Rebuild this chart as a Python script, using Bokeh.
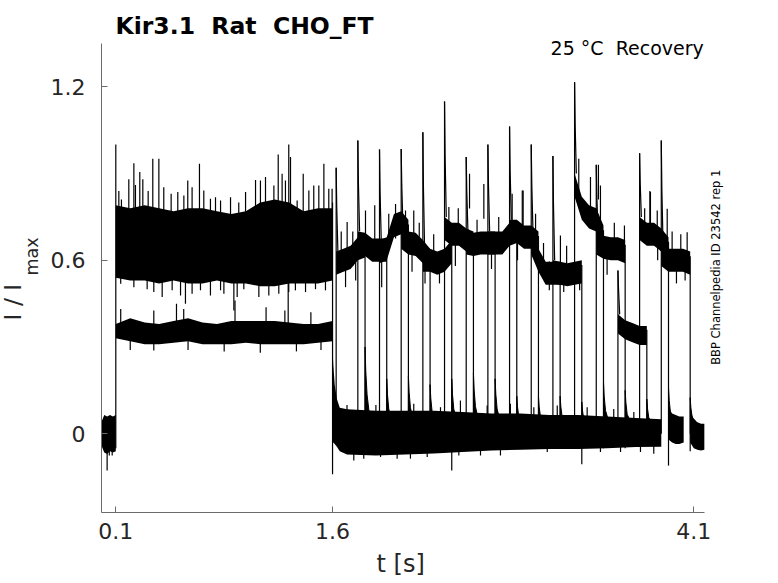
import math
from bokeh.plotting import figure
from bokeh.models import Range1d, FixedTicker, Label, Title, ColumnDataSource
from bokeh.embed import file_html
from bokeh.resources import INLINE

# ---------------- axes ----------------
x_ticks = [0.1, 1.6, 4.1]
x_tick_labels = ["0.1", "1.6", "4.1"]
y_ticks = [0.0, 0.6, 1.2]
y_tick_labels = ["0", "0.6", "1.2"]

# ---------------- baseline before the step (0 - 0.1 s) ----------------
pre_t = [0.0, 0.02, 0.04, 0.06, 0.08, 0.1]
pre_hi = [0.04, 0.065, 0.06, 0.065, 0.06, 0.065]
pre_lo = [-0.04, -0.065, -0.07, -0.06, -0.065, -0.06]
pre_dip_t = [0.04, 0.055, 0.075]
pre_dip_v = [-0.127, -0.075, -0.075]

# ---------------- activation step (0.1 - 1.6 s) ----------------
act_t = [0.1, 0.2, 0.3, 0.4, 0.5, 0.6, 0.7, 0.8, 0.9, 1.0, 1.1, 1.2, 1.3, 1.4, 1.5, 1.6]
act_hi = [0.79, 0.78, 0.79, 0.78, 0.77, 0.78, 0.78, 0.77, 0.76, 0.77, 0.80, 0.81, 0.80, 0.77, 0.78, 0.78]
act_lo = [0.54, 0.53, 0.53, 0.52, 0.53, 0.52, 0.52, 0.53, 0.52, 0.52, 0.51, 0.51, 0.52, 0.52, 0.52, 0.53]
act_up_t = [0.121, 0.139, 0.19, 0.225, 0.236, 0.266, 0.287, 0.324, 0.356, 0.398, 0.432, 0.483,
            0.529, 0.571, 0.598, 0.628, 0.679, 0.709, 0.755, 0.79, 0.825, 0.894, 0.951, 0.998,
            1.067, 1.101, 1.136, 1.194, 1.224, 1.251, 1.274, 1.297, 1.309, 1.355, 1.397, 1.436,
            1.47, 1.505, 1.54, 1.574, 1.597]
act_up_v = [0.84, 0.81, 0.88, 0.936, 0.86, 0.905, 0.88, 0.84, 0.951, 0.951, 0.853, 0.83,
            0.836, 0.824, 0.876, 0.853, 0.934, 0.841, 0.813, 0.818, 0.807, 0.818, 0.80, 0.836,
            0.878, 0.876, 0.888, 0.859, 0.966, 0.899, 0.876, 1.0, 0.957, 0.807, 0.899, 0.841,
            0.859, 0.859, 0.934, 0.847, 0.847]
act_dn_t = [0.134, 0.225, 0.317, 0.363, 0.421, 0.49, 0.548, 0.582, 0.628, 0.686, 0.755, 0.825,
            0.848, 0.917, 0.94, 0.986, 1.09, 1.159, 1.228, 1.293, 1.297, 1.343, 1.413, 1.482, 1.551]
act_dn_v = [0.519, 0.507, 0.50, 0.49, 0.473, 0.496, 0.478, 0.45, 0.484, 0.496, 0.478, 0.496,
            0.484, 0.426, 0.473, 0.50, 0.473, 0.478, 0.484, 0.357, 0.49, 0.496, 0.49, 0.50, 0.496]

# smaller sweep during activation
low_t = act_t
low_hi = [0.38, 0.40, 0.385, 0.38, 0.39, 0.40, 0.385, 0.38, 0.39, 0.39, 0.39, 0.39, 0.385, 0.38, 0.38, 0.39]
low_lo = [0.33, 0.32, 0.31, 0.31, 0.315, 0.32, 0.31, 0.31, 0.31, 0.315, 0.31, 0.31, 0.31, 0.31, 0.315, 0.32]
low_up_t = [0.134, 0.363, 0.52, 0.57, 0.925, 1.14, 1.27, 1.45]
low_up_v = [0.432, 0.426, 0.45, 0.432, 0.461, 0.438, 0.426, 0.42]
low_dn_t = [0.20, 0.363, 0.60, 0.85, 1.10, 1.35, 1.52]
low_dn_v = [0.29, 0.288, 0.29, 0.285, 0.28, 0.285, 0.29]

# ---------------- deactivated level (1.6 - 3.875 s) ----------------
zero_t = [1.6, 1.605, 1.615, 1.63, 1.65, 1.7, 1.9, 2.1, 2.3, 2.5, 2.7, 2.9, 3.1, 3.3, 3.5, 3.7, 3.875]
zero_hi = [0.30, 0.24, 0.17, 0.12, 0.09, 0.085, 0.08, 0.08, 0.08, 0.075, 0.07, 0.07, 0.065, 0.065, 0.06, 0.055, 0.05]
zero_lo = [-0.03, -0.03, -0.035, -0.045, -0.06, -0.072, -0.075, -0.072, -0.068, -0.063, -0.058, -0.055,
           -0.053, -0.053, -0.05, -0.046, -0.045]
zero_up_t = [1.70, 1.90, 2.162, 2.347, 2.485, 2.67, 2.831, 2.993, 3.155, 3.362, 3.546, 3.685]
zero_up_v = [0.10, 0.10, 0.104, 0.092, 0.115, 0.098, 0.104, 0.092, 0.098, 0.092, 0.086, 0.075]
zero_dn_t = [1.747, 1.816, 1.932, 2.047, 2.139, 2.255, 2.474, 2.624, 2.762, 3.086, 3.454, 3.593, 3.731, 3.823]
zero_dn_v = [-0.092, -0.086, -0.08, -0.086, -0.086, -0.08, -0.075, -0.075, -0.075, -0.063, -0.063, -0.063, -0.063, -0.069]

# ---------------- recovery pulses, one per sweep ----------------
rec_onset = [1.625, 1.775, 1.925, 2.075, 2.225, 2.375, 2.525, 2.675, 2.825, 2.975, 3.125, 3.275, 3.425, 3.575, 3.725, 3.875]
rec_end = [1.825, 1.975, 2.125, 2.275, 2.425, 2.575, 2.725, 2.875, 3.025, 3.175, 3.325, 3.475, 3.625, 3.775, 3.925, 4.075]
rec_peak = [0.92, 1.014, 0.983, 0.985, 1.043, 1.149, 0.957, 1.0, 1.063, 1.0, 0.961, 1.216, 0.93, 0.565, 0.97, 1.014]
level_rel_t = [0.0, 0.05, 0.1, 0.15, 0.2]
lev_000ms = [0.59, 0.66, 0.63, 0.68, 0.60, 0.71, 0.66, 0.66, 0.70, 0.66, 0.56, 0.86, 0.66, 0.38, 0.71, 0.62]
lev_050ms = [0.60, 0.655, 0.64, 0.66, 0.60, 0.69, 0.655, 0.66, 0.70, 0.60, 0.555, 0.78, 0.645, 0.36, 0.69, 0.60]
lev_100ms = [0.61, 0.635, 0.72, 0.655, 0.59, 0.69, 0.66, 0.66, 0.68, 0.555, 0.55, 0.75, 0.64, 0.35, 0.69, 0.60]
lev_150ms = [0.64, 0.635, 0.73, 0.63, 0.60, 0.67, 0.66, 0.69, 0.68, 0.555, 0.555, 0.74, 0.64, 0.34, 0.67, 0.60]
lev_200ms = [0.65, 0.635, 0.70, 0.60, 0.63, 0.66, 0.66, 0.70, 0.66, 0.555, 0.56, 0.68, 0.63, 0.34, 0.64, 0.59]
rec_noise = [0.04, 0.04, 0.04, 0.04, 0.04, 0.04, 0.04, 0.04, 0.04, 0.04, 0.04, 0.04, 0.04, 0.033, 0.04, 0.04]
drop_bottom = [-0.05, -0.05, -0.05, -0.05, -0.127, -0.05, -0.05, -0.05, -0.05, -0.05, -0.105, -0.05, -0.05, -0.04, -0.11, -0.06]
tail_peak = [0.30, 0.19, 0.20, 0.17, 0.19, 0.21, 0.19, 0.13, 0.13, 0.13, 0.11, 0.18, 0.15, 0.12, 0.16, 0.125]
pulse_up_t = [1.701, 1.828, 1.892, 1.989, 2.036, 2.105, 2.162, 2.405, 2.548, 2.647, 2.843, 2.913,
              2.919, 3.005, 3.177, 3.304, 3.385, 3.454, 3.80, 3.847, 3.916, 4.054, 3.44, 3.796,
              1.66, 1.74, 2.20, 2.30, 2.47, 2.60, 2.75, 3.06, 3.22, 3.55, 3.62, 3.76, 3.95, 4.01]
pulse_up_v = [0.732, 0.772, 0.79, 0.761, 0.795, 0.772, 0.772, 0.784, 0.899, 0.864, 0.83, 0.841,
              0.841, 0.761, 0.686, 0.951, 0.888, 0.859, 0.836, 0.772, 0.778, 0.697, 0.93, 0.84,
              0.70, 0.70, 0.73, 0.69, 0.78, 0.74, 0.75, 0.66, 0.65, 0.73, 0.72, 0.78, 0.70, 0.69]
pulse_dn_t = [1.69, 1.94, 2.24, 2.34, 2.70, 3.10, 3.31, 3.50, 3.98, 1.76, 2.15, 2.45, 2.88, 3.20, 3.85, 4.04]
pulse_dn_v = [0.507, 0.507, 0.52, 0.52, 0.57, 0.496, 0.496, 0.55, 0.52, 0.53, 0.56, 0.58, 0.60, 0.49, 0.60, 0.53]

# ---------------- end of the two last sweeps ----------------
trail_a_t = [3.925, 3.95, 3.975, 4.0, 4.03]
trail_a_hi = [0.09, 0.07, 0.065, 0.06, 0.06]
trail_a_lo = [-0.02, -0.03, -0.035, -0.035, -0.03]
trail_b_t = [4.075, 4.10, 4.125, 4.15, 4.173]
trail_b_hi = [0.08, 0.05, 0.04, 0.035, 0.035]
trail_b_lo = [-0.03, -0.05, -0.055, -0.058, -0.055]

step_on_t = 0.1
step_on_peak = 1.0
step_off_t = 1.6
step_off_top = 0.80
step_off_bottom = -0.14

title_text = "Kir3.1\u00a0 Rat\u00a0 CHO_FT"
condition_text = "25 °C\u00a0 Recovery"
side_text = "BBP Channelpedia ID 23542 rep 1"

# ---------------- figure ----------------
p = figure(frame_width=677, frame_height=512,
           min_border_left=101, min_border_right=0, min_border_top=0, min_border_bottom=71,
           x_range=Range1d(0.00104, 4.6862), y_range=Range1d(-0.27216, 1.4984),
           output_backend="svg", toolbar_location=None)
p.xgrid.visible = False
p.ygrid.visible = False
p.outline_line_color = None
p.background_fill_color = "white"
p.border_fill_color = "white"

AX = "#6b6b6b"
TXT = "#262626"
for ax in (p.xaxis[0], p.yaxis[0]):
    ax.axis_line_color = AX
    ax.major_tick_line_color = AX
    ax.major_tick_in = 6
    ax.major_tick_out = 0
    ax.minor_tick_line_color = None
    ax.major_label_text_color = TXT
    ax.major_label_text_font = "DejaVu Sans"
    ax.major_label_text_font_size = "22px"
xa, ya = p.xaxis[0], p.yaxis[0]
xa.ticker = FixedTicker(ticks=x_ticks)
xa.major_label_overrides = dict(zip(x_ticks, x_tick_labels))
xa.major_label_standoff = 10
xa.bounds = (0.00104, 4.1761)
ya.ticker = FixedTicker(ticks=y_ticks)
ya.major_label_overrides = dict(zip(y_ticks, y_tick_labels))
ya.major_label_standoff = 16
ya.bounds = (-0.27216, 1.3487)
ya.axis_label = "max"
ya.axis_label_text_font = "DejaVu Sans"
ya.axis_label_text_font_size = "17.5px"
ya.axis_label_text_font_style = "normal"
ya.axis_label_text_color = TXT
ya.axis_label_standoff = 6

p.add_layout(Title(text="I / I", align="left", offset=192, standoff=-16,
                   text_font="DejaVu Sans", text_font_size="23.5px",
                   text_font_style="normal", text_color=TXT), "left")
p.add_layout(Title(text="t [s]", align="left", offset=275, standoff=12,
                   text_font="DejaVu Sans", text_font_size="24px",
                   text_font_style="normal", text_color=TXT), "below")

K = "black"

def band(t, lo, hi):
    p.varea(x=t, y1=lo, y2=hi, fill_color=K, fill_alpha=1.0)

segs = dict(x0=[], y0=[], x1=[], y1=[])
def seg(x0, y0, x1, y1):
    segs["x0"].append(x0); segs["y0"].append(y0)
    segs["x1"].append(x1); segs["y1"].append(y1)

# baseline
band(pre_t, pre_lo, pre_hi)
for t, v in zip(pre_dip_t, pre_dip_v):
    seg(t, 0.0, t, v)

# activation
band(act_t, act_lo, act_hi)
band(low_t, low_lo, low_hi)
for t, v in zip(act_up_t, act_up_v):
    seg(t, 0.7, t, v)
for t, v in zip(act_dn_t, act_dn_v):
    seg(t, 0.6, t, v)
for t, v in zip(low_up_t, low_up_v):
    seg(t, 0.35, t, v)
for t, v in zip(low_dn_t, low_dn_v):
    seg(t, 0.35, t, v)
seg(step_on_t, -0.05, step_on_t, step_on_peak)
seg(step_off_t, step_off_top, step_off_t, step_off_bottom)

# deactivated level
band(zero_t, zero_lo, zero_hi)
for t, v in zip(zero_up_t, zero_up_v):
    seg(t, 0.0, t, v)
for t, v in zip(zero_dn_t, zero_dn_v):
    seg(t, 0.0, t, v)

# recovery pulses
tail_xs, tail_ys = [], []
dec_xs, dec_ys = [], []
for k in range(len(rec_onset)):
    o, e = rec_onset[k], rec_end[k]
    lv = [lev_000ms[k], lev_050ms[k], lev_100ms[k], lev_150ms[k], lev_200ms[k]]
    ts = [o + r for r in level_rel_t]
    hw = rec_noise[k]
    band(ts, [v - hw for v in lv], [v + hw for v in lv])
    seg(o, 0.0, o, rec_peak[k])
    dec_xs.append([o, o + 0.004, o + 0.012])
    dec_ys.append([rec_peak[k], (rec_peak[k] + lv[0]) / 2 + 0.03, lv[0] + hw])
    seg(e, lv[-1] + hw * 0.6, e, drop_bottom[k])
    tp = tail_peak[k]
    tail_xs.append([e, e, e + 0.005, e + 0.014, e + 0.035, e + 0.035])
    tail_ys.append([0.0, tp, tp * 0.72, tp * 0.45, 0.045, 0.0])
for t, v in zip(pulse_up_t, pulse_up_v):
    seg(t, v - 0.12, t, v)
for t, v in zip(pulse_dn_t, pulse_dn_v):
    seg(t, v + 0.1, t, v)

band(trail_a_t, trail_a_lo, trail_a_hi)
band(trail_b_t, trail_b_lo, trail_b_hi)

p.patches(xs=tail_xs, ys=tail_ys, fill_color=K, line_color=K, line_width=1)
p.multi_line(xs=dec_xs, ys=dec_ys, line_color=K, line_width=1.2)
p.segment(x0="x0", y0="y0", x1="x1", y1="y1", source=ColumnDataSource(segs),
          line_color=K, line_width=1.2)

# ---------------- texts inside the (enlarged) frame ----------------
def label(text, x, y, size, **kw):
    p.add_layout(Label(x=x, y=y, text=text, text_font="DejaVu Sans",
                       text_font_size=size, **kw))

label(title_text, 0.098, 1.4085, "23.5px", text_font_style="bold",
      text_color="black", text_align="left", text_baseline="alphabetic")
label(condition_text, 4.169, 1.3335, "19px", text_color="black",
      text_align="right", text_baseline="alphabetic")
label(side_text, 4.251, 0.576, "11.5px", text_color="black",
      text_align="center", text_baseline="alphabetic", angle=math.pi / 2)

open("out.html", "w").write(file_html(p, INLINE))
